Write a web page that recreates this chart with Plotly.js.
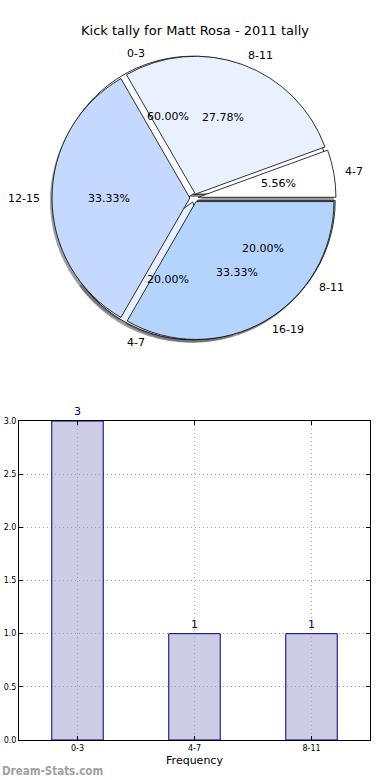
<!DOCTYPE html>
<html>
<head>
<meta charset="utf-8">
<script src="https://cdn.plot.ly/plotly-3.0.1.min.js"></script>
<style>html,body{margin:0;padding:0;background:#fff;}#chart{width:390px;height:780px;}</style>
</head>
<body>
<div id="chart"></div>
<script>
// ---- data ----
var titleText = "Kick tally for Matt Rosa - 2011 tally";
// first (under) pie
var pie1Labels = ["0-3", "4-7", "8-11"];
var pie1Values = [3, 1, 1];
var pie1Colors = ["#ffffff", "#e9f0fe", "#c5d8fe"];
// second (over) pie
var pie2Labels = ["4-7", "8-11", "12-15", "16-19"];
var pie2Values = [1, 5, 6, 6];
var pie2Colors = ["#ffffff", "#e9f0fe", "#c5d8fe", "#b4d4fe"];
// bar chart
var barCats = ["0-3", "4-7", "8-11"];
var barVals = [3, 1, 1];
var yTicks = [0, 0.5, 1, 1.5, 2, 2.5, 3];

var W = 390, H = 780;
var FONT = "DejaVu Sans, sans-serif";
// pie box in px
var cx = 194, cy = 198, box = 284;
var pull = 0.03;
var r = box / (2 + 2 * pull);
function dom(dx, dy) {
  return {
    x: [(cx - box / 2 + dx) / W, (cx + box / 2 + dx) / W],
    y: [1 - (cy + box / 2 + dy) / H, 1 - (cy - box / 2 + dy) / H]
  };
}
function pullArr(n) { var a = []; for (var i = 0; i < n; i++) a.push(pull); return a; }
function total(v) { return v.reduce(function (a, b) { return a + b; }, 0); }

function pieTrace(labels, values, colors, d, line) {
  // first slice starts at 3 o'clock and slices run counterclockwise
  var rot = 90 - 360 * values[0] / total(values);
  return {
    type: "pie", labels: labels, values: values, sort: false,
    direction: "counterclockwise", rotation: rot,
    pull: pullArr(values.length), domain: d, textinfo: "none",
    hoverinfo: "none", showlegend: false,
    marker: { colors: colors, line: { color: line, width: 0.8 } }
  };
}
function shadowColors(n) { var a = []; for (var i = 0; i < n; i++) a.push("rgba(80,80,80,0.55)"); return a; }

var traces = [
  pieTrace(pie1Labels, pie1Values, shadowColors(3), dom(-2, 3), "rgba(0,0,0,0)"),
  pieTrace(pie2Labels, pie2Values, shadowColors(4), dom(-2, 3), "rgba(0,0,0,0)"),
  pieTrace(pie1Labels, pie1Values, pie1Colors, dom(0, 0), "#000"),
  pieTrace(pie2Labels, pie2Values, pie2Colors, dom(0, 0), "#000"),
  {
    type: "bar", x: barCats, y: barVals, width: 0.44,
    marker: { color: "rgba(153,153,204,0.5)", line: { color: "#000080", width: 1 } },
    text: barVals.map(String), textposition: "outside", cliponaxis: false,
    textfont: { color: "#000080", size: 11, family: FONT },
    hoverinfo: "none", showlegend: false
  }
];

// labels for pies computed from data
var annotations = [];
function pieLabels(labels, values) {
  var tot = total(values);
  var acc = 0;
  for (var i = 0; i < values.length; i++) {
    var frac = values[i] / tot;
    var mid = (acc + frac / 2) * 2 * Math.PI;
    acc += frac;
    var c = Math.cos(mid), s = Math.sin(mid);
    var lx = cx + c * r * 1.1, ly = cy - s * r * 1.1;
    annotations.push({
      xref: "paper", yref: "paper", x: lx / W, y: 1 - ly / H,
      text: labels[i], showarrow: false,
      xanchor: c > 0 ? "left" : "right", yanchor: "middle",
      font: { family: FONT, size: 11, color: "#000" }
    });
    var px = cx + c * r * 0.62, py = cy - s * r * 0.62;
    annotations.push({
      xref: "paper", yref: "paper", x: px / W, y: 1 - py / H,
      text: (frac * 100).toFixed(2) + "%", showarrow: false,
      xanchor: "center", yanchor: "middle",
      font: { family: FONT, size: 11, color: "#000" }
    });
  }
}
pieLabels(pie1Labels, pie1Values);
pieLabels(pie2Labels, pie2Values);

annotations.push({
  xref: "paper", yref: "paper", x: 0, y: 1 - 771 / H, xanchor: "left", yanchor: "middle",
  text: "<b>Dream-Stats.com</b>", showarrow: false,
  font: { family: "DejaVu Sans Condensed, DejaVu Sans, sans-serif", size: 11.5, color: "#a0a0a0" }
});

var layout = {
  width: W, height: H,
  margin: { l: 0, r: 0, t: 0, b: 0 },
  paper_bgcolor: "#fff", plot_bgcolor: "#fff",
  font: { family: FONT, color: "#000" },
  title: { text: titleText, x: 0.5, xanchor: "center", y: 1 - 30 / H, yanchor: "middle",
           font: { family: FONT, size: 13, color: "#000" } },
  xaxis: {
    domain: [19 / W, 370 / W], anchor: "y", type: "category", range: [-0.5, 2.5],
    showline: true, linecolor: "#000", linewidth: 1, mirror: "allticks",
    ticks: "inside", ticklen: 4, tickcolor: "#000",
    showgrid: true, gridcolor: "#aaaaaa", griddash: "1px,3px", gridwidth: 1,
    tickfont: { family: FONT, size: 8, color: "#000" },
    title: { text: "Frequency", font: { family: FONT, size: 11, color: "#000" }, standoff: 4 },
    zeroline: false, fixedrange: true
  },
  yaxis: {
    domain: [1 - 740 / H, 1 - 421 / H], anchor: "x", range: [0, 3],
    tickvals: yTicks, tickformat: ".1f",
    showline: true, linecolor: "#000", linewidth: 1, mirror: "allticks",
    ticks: "inside", ticklen: 4, tickcolor: "#000",
    showgrid: true, gridcolor: "#aaaaaa", griddash: "1px,3px", gridwidth: 1,
    tickfont: { family: FONT, size: 8, color: "#000" },
    zeroline: false, fixedrange: true
  },
  annotations: annotations
};

Plotly.newPlot("chart", traces, layout, { displayModeBar: false, staticPlot: true });
</script>
</body>
</html>
